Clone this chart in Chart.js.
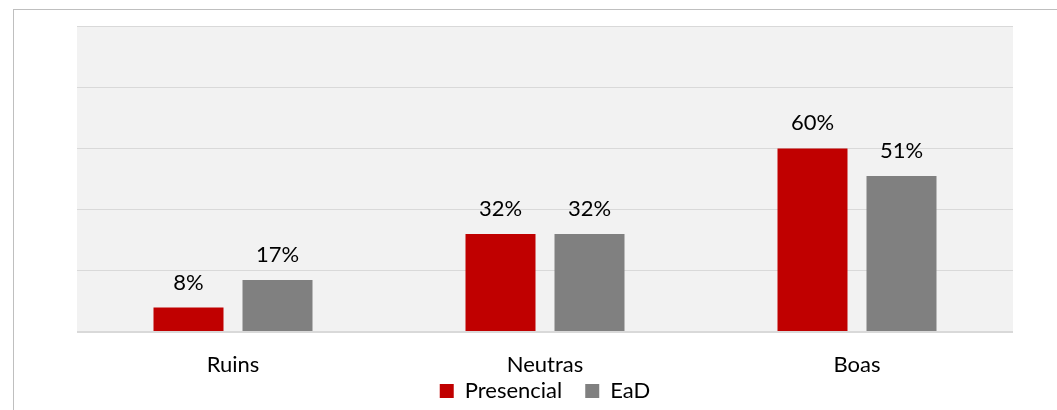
<!DOCTYPE html>
<html>
<head>
<meta charset="utf-8">
<script src="https://cdn.jsdelivr.net/npm/chart.js@4.4.1/dist/chart.umd.min.js"></script>
<style>
  html, body { margin: 0; padding: 0; background: #fff; }
  .wrap { position: relative; width: 1057px; height: 410px; overflow: hidden; }
  .frame { position: absolute; left: 13px; top: 9px; right: 0; bottom: 0;
           border-left: 1px solid #bfbfbf; border-top: 1px solid #bfbfbf; }
  .box { position: absolute; left: 0; top: 0; width: 1057px; height: 412px; }
</style>
</head>
<body>
<div class="wrap">
  <div class="frame"></div>
  <div class="box"><canvas id="chart"></canvas></div>
</div>
<script>
const categories = ['Ruins', 'Neutras', 'Boas'];
const presencial = [8, 32, 60];
const ead = [17, 32, 51];
const yTicks = [0, 20, 40, 60, 80, 100];

// fills the plot area grey like the spreadsheet chart
const plotBg = {
  id: 'plotBg',
  beforeDraw(chart) {
    const { ctx, chartArea: a } = chart;
    ctx.save();
    ctx.fillStyle = '#f2f2f2';
    ctx.fillRect(a.left, a.top, a.right - a.left, a.bottom - a.top);
    ctx.restore();
  }
};

// value labels above each bar
const barLabels = {
  id: 'barLabels',
  afterDatasetsDraw(chart) {
    const ctx = chart.ctx;
    ctx.save();
    ctx.font = '22px Lato';
    ctx.fillStyle = '#000';
    ctx.textAlign = 'center';
    ctx.textBaseline = 'alphabetic';
    chart.data.datasets.forEach((ds, i) => {
      chart.getDatasetMeta(i).data.forEach((bar, j) => {
        ctx.fillText(ds.data[j] + '%', bar.x, bar.y - 18);
      });
    });
    ctx.restore();
  }
};

new Chart(document.getElementById('chart'), {
  type: 'bar',
  data: {
    labels: categories,
    datasets: [
      { label: 'Presencial', data: presencial, backgroundColor: '#c00000' },
      { label: 'EaD', data: ead, backgroundColor: '#808080' }
    ]
  },
  options: {
    responsive: true,
    maintainAspectRatio: false,
    animation: false,
    categoryPercentage: 0.5705,
    barPercentage: 0.7865,
    layout: { padding: { left: 77, right: 44, top: 26, bottom: 0 } },
    scales: {
      x: {
        grid: { display: false },
        border: { display: false },
        ticks: { color: '#000', font: { family: 'Lato', size: 22 }, padding: 12 },
        afterFit: (s) => {
          s.height = 25;
          s._computeLabelArea = () => undefined; // labels may run into the legend strip
        }
      },
      y: {
        min: 0,
        max: 100,
        afterBuildTicks: (s) => { s.ticks = yTicks.map(v => ({ value: v })); },
        ticks: { display: false },
        grid: { color: '#d9d9d9', drawTicks: false, lineWidth: (c) => c.tick.value === 0 ? 2 : 1 },
        border: { display: false },
        afterFit: (s) => { s.width = 0; }
      }
    },
    plugins: {
      legend: {
        position: 'bottom',
        labels: { color: '#000', font: { family: 'Lato', size: 22 }, boxWidth: 14, boxHeight: 14, padding: 23 }
      },
      tooltip: { enabled: false }
    }
  },
  plugins: [plotBg, barLabels]
});
</script>
</body>
</html>
